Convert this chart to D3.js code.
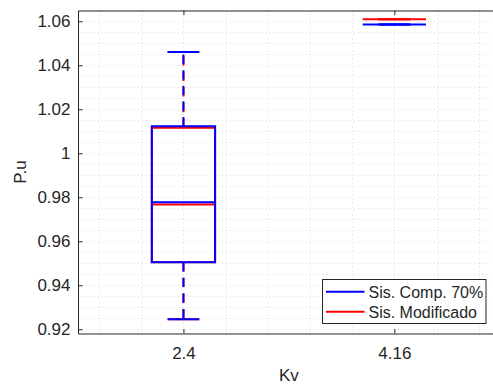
<!DOCTYPE html>
<html>
<head>
<meta charset="utf-8">
<script src="https://cdn.jsdelivr.net/npm/d3@7/dist/d3.min.js"></script>
<style>
  html, body { margin: 0; padding: 0; background: #fff; }
  svg { display: block; }
  text { font-family: "Liberation Sans", Arial, Helvetica, sans-serif; fill: #262626; }
</style>
</head>
<body>
<svg id="chart" width="493" height="385"></svg>
<script>
// ---- data ----
const categories = ["2.4", "4.16"];
// boxplot stats per category: [lower whisker, Q1, median, Q3, upper whisker]
const compStats = [
  [0.9246, 0.9505, 0.9777, 1.0123, 1.0460],
  [1.0586, 1.0586, 1.0586, 1.0586, 1.0586]
];
const modStats = [
  [0.9246, 0.9505, 0.9767, 1.0116, 1.0460],
  [1.0609, 1.0609, 1.0609, 1.0609, 1.0609]
];
const seriesNames = ["Sis. Comp. 70%", "Sis. Modificado"];
const seriesColors = ["#0000ff", "#ff0000"];
const yTicks = [0.92, 0.94, 0.96, 0.98, 1, 1.02, 1.04, 1.06];
const yTickLabels = ["0.92", "0.94", "0.96", "0.98", "1", "1.02", "1.04", "1.06"];

// ---- layout ----
const svg = d3.select("#chart");
const L = 78, R = 499.8, T = 10.5, B = 333.5;
const x = d3.scaleLinear().domain([0.5, categories.length + 0.5]).range([L, R]);
const y = d3.scaleLinear().domain([0.91809, 1.06491]).range([B, T]);

// ---- grid (dotted, major and minor) ----
const grid = svg.append("g");
const xMinor = d3.range(0.6, categories.length + 0.5, 0.2);
const yMinor = d3.range(0.92, 1.0651, 0.005);
grid.selectAll("line.gx").data(xMinor).join("line")
  .attr("x1", d => Math.round(x(d)) + 0.5).attr("x2", d => Math.round(x(d)) + 0.5)
  .attr("y1", T).attr("y2", B)
  .attr("stroke", "#d8d8d8").attr("stroke-width", 1).attr("stroke-dasharray", "1,3");
grid.selectAll("line.gy").data(yMinor).join("line")
  .attr("x1", L).attr("x2", R)
  .attr("y1", d => Math.round(y(d)) + 0.5).attr("y2", d => Math.round(y(d)) + 0.5)
  .attr("stroke", "#d8d8d8").attr("stroke-width", 1).attr("stroke-dasharray", "1,3");

// ---- boxes ----
const boxHalf = 0.15, capHalf = 0.075;
function drawBox(g, stats, color) {
  stats.forEach((s, i) => {
    const c = i + 1;
    const [lo, q1, med, q3, hi] = s;
    const st = (sel) => sel.attr("stroke", color).attr("stroke-width", 2).attr("fill", "none");
    // whiskers (dashed, drawn from box outward)
    st(g.append("line")).attr("x1", x(c)).attr("x2", x(c)).attr("y1", y(q3)).attr("y2", y(hi))
      .attr("stroke-dasharray", "9.3,6.3");
    st(g.append("line")).attr("x1", x(c)).attr("x2", x(c)).attr("y1", y(q1)).attr("y2", y(lo))
      .attr("stroke-dasharray", "9.3,6.3");
    // caps
    st(g.append("line")).attr("x1", x(c - capHalf)).attr("x2", x(c + capHalf)).attr("y1", y(hi)).attr("y2", y(hi));
    st(g.append("line")).attr("x1", x(c - capHalf)).attr("x2", x(c + capHalf)).attr("y1", y(lo)).attr("y2", y(lo));
    // box
    st(g.append("rect")).attr("x", x(c - boxHalf)).attr("width", x(c + boxHalf) - x(c - boxHalf))
      .attr("y", y(q3)).attr("height", Math.max(0, y(q1) - y(q3)));
    // median
    st(g.append("line")).attr("x1", x(c - boxHalf)).attr("x2", x(c + boxHalf)).attr("y1", y(med)).attr("y2", y(med));
  });
}
drawBox(svg.append("g"), modStats, seriesColors[1]);
drawBox(svg.append("g"), compStats, seriesColors[0]);

// ---- axes ----
const axisColor = "#262626";
const yAxis = d3.axisLeft(y).tickValues(yTicks).tickFormat((d, i) => yTickLabels[i])
  .tickSizeInner(-4.5).tickSizeOuter(0).tickPadding(7.5);
const gy = svg.append("g").attr("transform", `translate(${L},0)`).call(yAxis);
gy.select(".domain").attr("stroke", axisColor);
gy.selectAll(".tick line").attr("stroke", axisColor);
gy.selectAll(".tick text").style("font-size", "17px").attr("fill", axisColor);

const xAxis = d3.axisBottom(x).tickValues(categories.map((c, i) => i + 1))
  .tickFormat((d, i) => categories[i]).tickSizeInner(-4.5).tickSizeOuter(0).tickPadding(13);
const gx = svg.append("g").attr("transform", `translate(0,${B})`).call(xAxis);
gx.select(".domain").attr("stroke", axisColor);
gx.selectAll(".tick line").attr("stroke", axisColor);
gx.selectAll(".tick text").style("font-size", "17px").attr("fill", axisColor);

const xTop = d3.axisTop(x).tickValues(categories.map((c, i) => i + 1))
  .tickFormat("").tickSizeInner(-4.5).tickSizeOuter(0);
const gt = svg.append("g").attr("transform", `translate(0,${T})`).call(xTop);
gt.select(".domain").attr("stroke", axisColor);
gt.selectAll(".tick line").attr("stroke", axisColor);

// axis labels
svg.append("text").attr("x", (L + R) / 2).attr("y", 381)
  .attr("text-anchor", "middle").style("font-size", "17px").text("Kv");
svg.append("text").attr("transform", `translate(26,${(T + B) / 2}) rotate(-90)`)
  .attr("text-anchor", "middle").style("font-size", "17px").text("P.u");

// ---- legend ----
const lg = svg.append("g");
lg.append("rect").attr("x", 322.5).attr("y", 279.5).attr("width", 163.5).attr("height", 44)
  .attr("fill", "#fff").attr("stroke", axisColor).attr("stroke-width", 1);
seriesNames.forEach((n, i) => {
  const yy = 291.7 + i * 20;
  lg.append("line").attr("x1", 326).attr("x2", 364.5).attr("y1", yy).attr("y2", yy)
    .attr("stroke", seriesColors[i]).attr("stroke-width", 2);
  lg.append("text").attr("x", 368.5).attr("y", yy + 5.8).style("font-size", "16px").text(n);
});
</script>
</body>
</html>
